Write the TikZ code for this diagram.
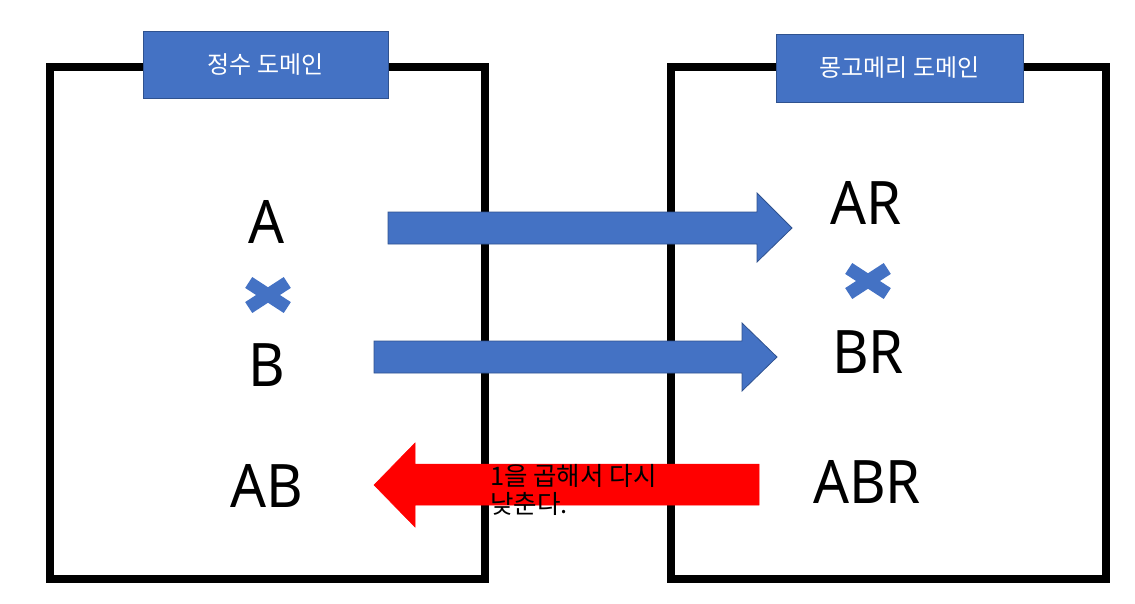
\documentclass[tikz,border=0pt]{standalone}
\usepackage{fontspec}
\setmainfont{Noto Sans}
\newfontfamily\kr{Noto Sans CJK KR}
\newfontfamily\bigf[FakeStretch=0.94]{Noto Sans}
\definecolor{pblue}{HTML}{4472C4}
\definecolor{pblueline}{HTML}{2F528F}
\definecolor{pred}{HTML}{FF0000}
\tikzset{
  frame/.style={draw=black, line width=8pt, line join=miter},
  header/.style={draw=pblueline, line width=0.9pt, fill=pblue, text=white, font=\kr\fontsize{24}{28}\selectfont, inner sep=0pt},
  bigletter/.style={font=\bigf\fontsize{60}{70}\selectfont, inner sep=0pt},
  barrow/.style={fill=pblue, draw=pblueline, line width=0.8pt, line join=miter},
  rarrow/.style={fill=pred, draw=pred, line width=0.5pt},
  redtext/.style={font=\kr\fontsize{25.5}{28}\selectfont, inner sep=0pt, anchor=base west},
}
\begin{document}
\begin{tikzpicture}[x=1pt, y=-1pt]
\useasboundingbox (0,0) rectangle (1135,603);
% frames
\draw[frame] (50,67) rectangle (485,579);
\draw[frame] (671,67) rectangle (1106,579);
% headers
\node[header, minimum width=245pt, minimum height=67pt] (h1) at (265.5,64.5) {정수 도메인};
\node[header, minimum width=247pt, minimum height=68pt] (h2) at (899.5,68) {몽고메리 도메인};
% letters
\node[bigletter] (A) at (267,221.5) {A};
\node[bigletter] (B) at (267,365) {B};
\node[bigletter] (AB) at (267,486) {AB};
\node[bigletter] (AR) at (866,202.5) {AR};
\node[bigletter] (BR) at (868,352.5) {BR};
\node[bigletter] (ABR) at (867,481.5) {ABR};
% multiply signs
\foreach \cx/\cy in {268/295, 868/281}{
  \fill[pblue, rotate around={33:(\cx,\cy)}] (\cx-23,\cy-6.5) rectangle (\cx+23,\cy+6.5);
  \fill[pblue, rotate around={-33:(\cx,\cy)}] (\cx-23,\cy-6.5) rectangle (\cx+23,\cy+6.5);
}
% blue arrows
\draw[barrow] (388,212) -- (757,212) -- (757,193) -- (792,228) -- (757,262) -- (757,244) -- (388,244) -- cycle;
\draw[barrow] (374,341) -- (742,341) -- (742,323) -- (777,357) -- (742,391) -- (742,373) -- (374,373) -- cycle;
% red arrow
\draw[rarrow] (759,464) -- (415,464) -- (415,443) -- (374,485) -- (415,527) -- (415,505) -- (759,505) -- cycle;
\node[redtext] (r1) at (490,485) {1을 곱해서 다시};
\node[redtext] (r2) at (490,513) {낮춘다.};
\end{tikzpicture}
\end{document}
